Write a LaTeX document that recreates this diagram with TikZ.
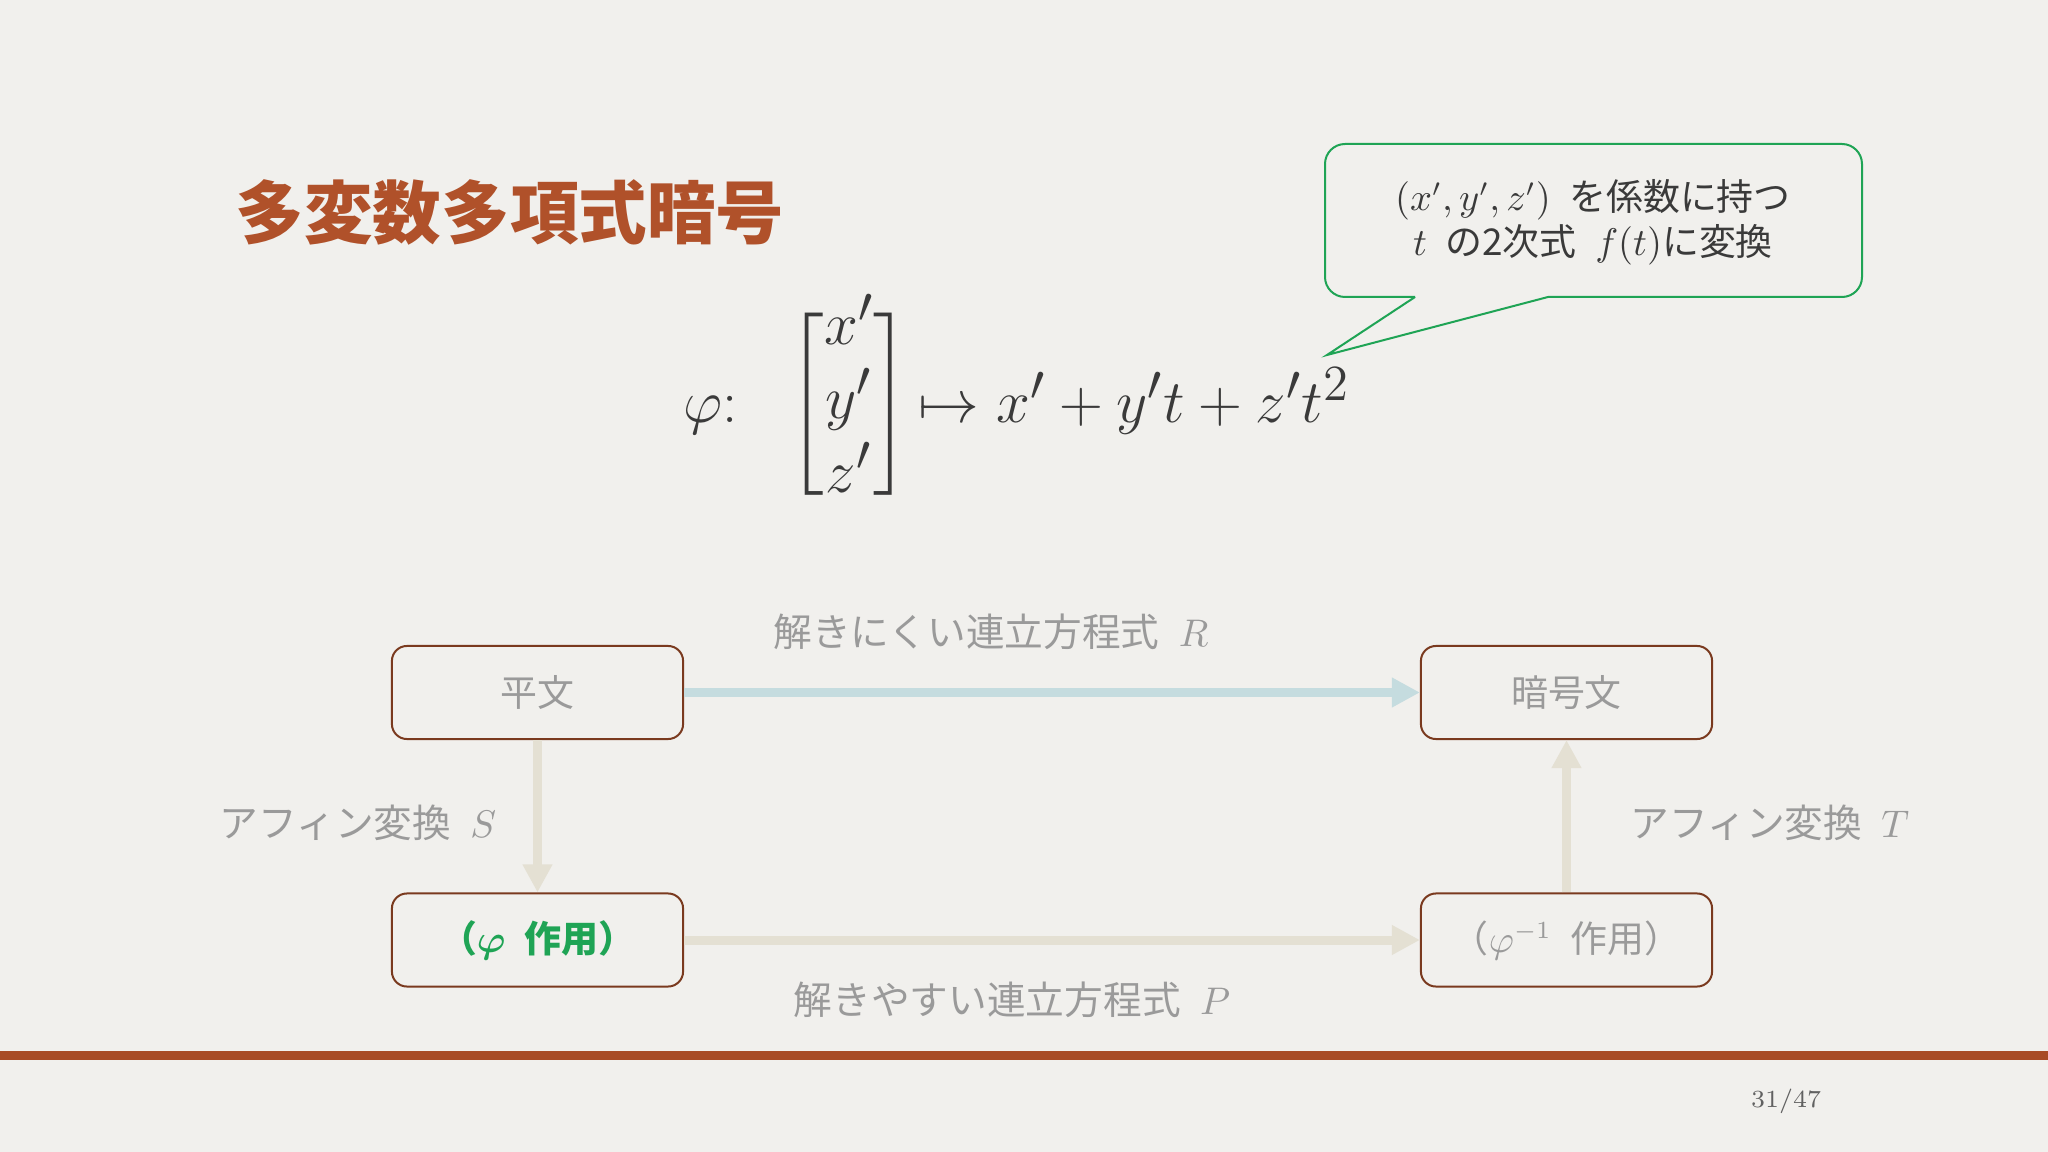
\documentclass[tikz,border=0pt]{standalone}
\usepackage{amsmath}
\usepackage{fontspec}
\newfontfamily\cjk{Noto Sans CJK JP}
\usetikzlibrary{arrows.meta}
\definecolor{paper}{HTML}{F1F0ED}
\definecolor{rust}{HTML}{B0512A}
\definecolor{rule}{HTML}{A84B25}
\definecolor{boxline}{HTML}{7A3A1F}
\definecolor{leaf}{HTML}{1FA455}
\definecolor{ink}{HTML}{3A3A3A}
\definecolor{mute}{HTML}{9A9A9A}
\definecolor{mist}{HTML}{C5DCDF}
\definecolor{sand}{HTML}{E4E0D3}
\tikzset{
  stage/.style={draw=boxline, line width=0.02cm, rounded corners=0.15cm,
    minimum width=2.91cm, minimum height=0.93cm, text=mute,
    font=\cjk\fontsize{10.5}{12}\selectfont},
  tag/.style={text=mute, font=\cjk\fontsize{11}{13}\selectfont},
  flow/.style={line width=0.09cm, -{Triangle[length=0.28cm,width=0.28cm]}},
  formula/.style={text=ink, inner sep=0, font=\fontsize{19}{21}\selectfont},
}
\begin{document}
\begin{tikzpicture}[x=0.01cm, y=-0.01cm]
  \useasboundingbox (0,0) rectangle (2048,1152);
  \fill[paper] (0,0) rectangle (2048,1152);
  % title
  \node[anchor=west, inner sep=0, text=rust,
    font=\cjk\bfseries\fontsize{19.5}{22}\selectfont] (title) at (235,212) {多変数多項式暗号};
  % the map
  \node[formula, anchor=base west] (phi) at (683,423) {$\varphi{:}$};
  \node[formula] (vec) at (849,404)
    {\delimiterfactor=790 \delimitershortfall=30pt $\begin{bmatrix}x'\\y'\\z'\end{bmatrix}$};
  \node[formula, anchor=base west] (poly) at (918,423) {$\mapsto x'+y't+z't^2$};
  % speech bubble
  \coordinate (tip) at (1327,355);
  \draw[leaf, line width=0.02cm, rounded corners=0.2cm]
    (1548,297) -- (1862,297) -- (1862,144) -- (1325,144) -- (1325,297) -- (1415,297);
  \draw[leaf, line width=0.02cm] (1415,297) -- (tip) -- (1548,297);
  \node[text=ink, align=center, font=\cjk\fontsize{10.5}{12.8}\selectfont] (note) at (1593,222)
    {$(x',y',z')$\enspace を係数に持つ\\$t$\enspace の2次式\enspace$f(t)$に変換};
  % boxes
  \node[stage] (plain) at (537.5,692.5) {平文};
  \node[stage] (cipher) at (1566.5,692.5) {暗号文};
  \node[stage, text=leaf, font=\cjk\bfseries\fontsize{10.5}{12}\selectfont] (apply) at (537.5,940)
    {（{\boldmath$\varphi$}\enspace 作用）};
  \node[stage] (unapply) at (1566.5,940) {（$\varphi^{-1}$\enspace 作用）};
  % arrows
  \draw[flow, mist] (plain) -- (cipher);
  \draw[flow, sand] (apply) -- (unapply);
  \draw[flow, sand] (plain) -- (apply);
  \draw[flow, sand] (unapply) -- (cipher);
  % labels
  \node[tag] (hard) at (991,632) {解きにくい連立方程式\enspace$R$};
  \node[tag] (easy) at (1012,1000) {解きやすい連立方程式\enspace$P$};
  \node[tag] (affs) at (358,823) {アフィン変換\enspace$S$};
  \node[tag] (afft) at (1770,823) {アフィン変換\enspace$T$};
  % footer
  \draw[rule, line width=0.09cm] (0,1055) -- (2048,1055);
  \node[text=ink!80, font=\fontsize{7}{8}\selectfont] (page) at (1786,1101) {31/47};
\end{tikzpicture}
\end{document}
